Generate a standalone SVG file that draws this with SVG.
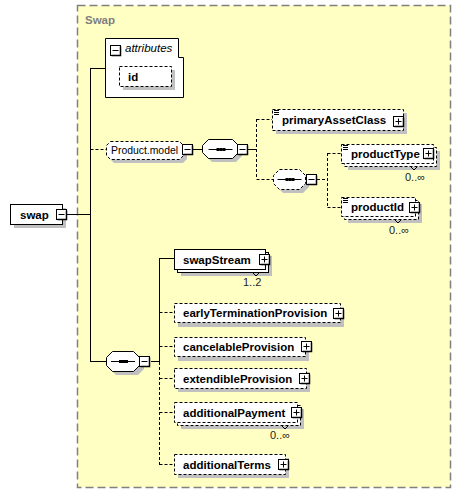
<svg xmlns="http://www.w3.org/2000/svg" width="462" height="496" viewBox="0 0 462 496">
<style>
text{font-family:"Liberation Sans",Arial,sans-serif;font-size:11.5px;fill:#000}
.b{font-weight:bold}
.node{fill:#fff;stroke:#000;stroke-width:1}
.opt{fill:#fff;stroke:#000;stroke-width:1;stroke-dasharray:3,2}
.sh{fill:#c0c0c0}
.ln{stroke:#000;stroke-width:1;fill:none}
.dl{stroke:#000;stroke-width:1;fill:none;stroke-dasharray:3,2}
.occ{font-size:11px;fill:#222}
</style>
<defs>
<g id="plus"><rect x="0.5" y="0.5" width="10" height="10" fill="#fff" stroke="#000"/><path d="M10.5 1.5V10.5H1.5" stroke="#000" stroke-width="1.5" fill="none"/><path d="M2.5 5.5h6M5.5 2.5v6" stroke="#000"/></g>
<g id="minus"><rect x="0.5" y="0.5" width="10" height="10" fill="#fff" stroke="#000"/><path d="M10.5 1.5V10.5H1.5" stroke="#000" stroke-width="1.5" fill="none"/><path d="M2.5 5.5h6" stroke="#000"/></g>
<g id="seqdots"><path d="M0 0h24" stroke="#000"/><rect x="8" y="-1.5" width="3" height="3" fill="#000"/><rect x="11" y="-1.5" width="3" height="3" fill="#000"/><rect x="14" y="-1.5" width="3" height="3" fill="#000"/></g>
<g id="simple"><path d="M0 0.5h5M0 2.5h5M0 4.5h5" stroke="#000" stroke-width="1"/></g>
</defs>

<g id="swap-type">
<rect x="77.5" y="5.5" width="373" height="482" fill="#ffffc4" stroke="#808080" stroke-width="1.5" stroke-dasharray="8,4"/>
<text x="85" y="24" class="b" style="fill:#808080">Swap</text>
</g>

<g id="connectors">
<path class="ln" d="M67 214.5H90.5M90.5 68V362M90.5 68.5H105M90.5 361.5H106"/>
<path class="dl" d="M90.5 149.5H106"/>
<path class="ln" d="M193 149.5H202M248 149.5H256"/>
<path class="dl" d="M256.5 119V179M256.5 119.5H272M256.5 179.5H273"/>
<path class="dl" d="M317 179.5H327M327.5 153V207M327.5 153.5H341M327.5 207.5H341"/>
<path class="ln" d="M151 361.5H159.5M159.5 258V362M159.5 258.5H174"/>
<path class="dl" d="M159.5 362V465M159.5 312.5H174M159.5 346.5H174M159.5 378.5H174M159.5 412.5H174M159.5 464.5H174"/>
</g>

<g id="swap">
<rect class="sh" x="14" y="208" width="52" height="20"/>
<rect class="node" x="10.5" y="204.5" width="52" height="20"/>
<text x="20" y="219" class="b">swap</text>
<use href="#minus" x="56" y="209"/>
</g>

<g id="attributes">
<path class="node" d="M105.5 38.5H178.5V57.5H183.5V97.5H105.5Z"/>
<use href="#minus" x="110" y="45"/>
<text x="125" y="52" style="font-style:italic">attributes</text>
<rect class="sh" x="123" y="70" width="52" height="20"/>
<rect class="opt" x="119.5" y="66.5" width="52" height="20"/>
<text x="128" y="81" class="b">id</text>
</g>

<g id="product-model">
<path class="sh" d="M114 145H183L187 149V159L183 163H114L110 159V149Z"/>
<path class="opt" d="M110.5 141.5H179.5L183.5 145.5V155.5L179.5 159.5H110.5L106.5 155.5V145.5Z"/>
<text x="111" y="154" textLength="67" lengthAdjust="spacingAndGlyphs">Product.model</text>
<use href="#minus" x="182" y="144"/>
</g>

<g id="sequence-1">
<path class="sh" d="M212 143H236L242 149V156L236 162H212L206 156V149Z"/>
<path class="node" d="M208.5 139.5H232.5L238.5 145.5V152.5L232.5 158.5H208.5L202.5 152.5V145.5Z"/>
<use href="#seqdots" x="208.5" y="149.5"/>
<use href="#minus" x="237" y="144"/>
</g>

<g id="primaryAssetClass">
<rect class="sh" x="276" y="113" width="131" height="21"/>
<rect class="opt" x="272.5" y="109.5" width="131" height="21"/>
<use href="#simple" x="274" y="110"/>
<text x="282" y="124" class="b">primaryAssetClass</text>
<use href="#plus" x="393" y="116"/>
</g>

<g id="sequence-2">
<path class="sh" d="M283 173H303L309 179V187L303 193H283L277 187V179Z"/>
<path class="opt" d="M279.5 169.5H299.5L305.5 175.5V183.5L299.5 189.5H279.5L273.5 183.5V175.5Z"/>
<use href="#seqdots" x="277.5" y="179.5"/>
<use href="#minus" x="306" y="174"/>
</g>

<g id="productType">
<rect class="sh" x="348" y="151" width="92" height="19"/>
<rect class="opt" x="344.5" y="147.5" width="92" height="19"/>
<rect class="opt" x="341.5" y="144.5" width="92" height="19"/>
<use href="#simple" x="343" y="145"/>
<text x="351" y="158" class="b">productType</text>
<use href="#plus" x="423" y="148"/>
<path class="ln" d="M411 167l3 3l3-3"/>
<text x="405" y="181" class="occ">0..∞</text>
</g>

<g id="productId">
<rect class="sh" x="348" y="204" width="74" height="19"/>
<rect class="opt" x="344.5" y="200.5" width="74" height="19"/>
<rect class="opt" x="341.5" y="197.5" width="74" height="19"/>
<use href="#simple" x="343" y="198"/>
<text x="351" y="211" class="b">productId</text>
<use href="#plus" x="409" y="202"/>
<path class="ln" d="M395 220l3 3l3-3"/>
<text x="389" y="234" class="occ">0..∞</text>
</g>

<g id="sequence-main">
<path class="sh" d="M116 355H138L144 361V369L138 375H116L110 369V361Z"/>
<path class="node" d="M112.5 351.5H133.5L139.5 357.5V365.5L133.5 371.5H112.5L106.5 365.5V357.5Z"/>
<use href="#seqdots" x="111" y="361.5"/>
<use href="#minus" x="139" y="356"/>
</g>

<g id="swapStream">
<rect class="sh" x="181" y="256" width="91" height="20"/>
<rect class="node" x="177.5" y="252.5" width="91" height="20"/>
<rect class="node" x="174.5" y="249.5" width="91" height="20"/>
<text x="183" y="264" class="b">swapStream</text>
<use href="#plus" x="259" y="254"/>
<path class="ln" d="M253 273l3 3l3-3"/>
<text x="243" y="286" class="occ">1..2</text>
</g>

<g id="earlyTerminationProvision">
<rect class="sh" x="178" y="307" width="166" height="20"/>
<rect class="opt" x="174.5" y="303.5" width="166" height="19"/>
<text x="183" y="317" class="b">earlyTerminationProvision</text>
<use href="#plus" x="333" y="308"/>
</g>

<g id="cancelableProvision">
<rect class="sh" x="178" y="341" width="131" height="20"/>
<rect class="opt" x="174.5" y="337.5" width="131" height="19"/>
<text x="183" y="351" class="b">cancelableProvision</text>
<use href="#plus" x="301" y="341"/>
</g>

<g id="extendibleProvision">
<rect class="sh" x="178" y="372" width="132" height="20"/>
<rect class="opt" x="174.5" y="368.5" width="132" height="20"/>
<text x="183" y="383" class="b">extendibleProvision</text>
<use href="#plus" x="299" y="373"/>
</g>

<g id="additionalPayment">
<rect class="sh" x="181" y="409" width="123" height="20"/>
<rect class="opt" x="177.5" y="405.5" width="123" height="20"/>
<rect class="opt" x="174.5" y="402.5" width="123" height="20"/>
<text x="183" y="417" class="b">additionalPayment</text>
<use href="#plus" x="291" y="407"/>
<path class="ln" d="M282 426l3 3l3-3"/>
<text x="270" y="439" class="occ">0..∞</text>
</g>

<g id="additionalTerms">
<rect class="sh" x="178" y="458" width="111" height="20"/>
<rect class="opt" x="174.5" y="454.5" width="111" height="20"/>
<text x="183" y="469" class="b">additionalTerms</text>
<use href="#plus" x="278" y="459"/>
</g>
</svg>
